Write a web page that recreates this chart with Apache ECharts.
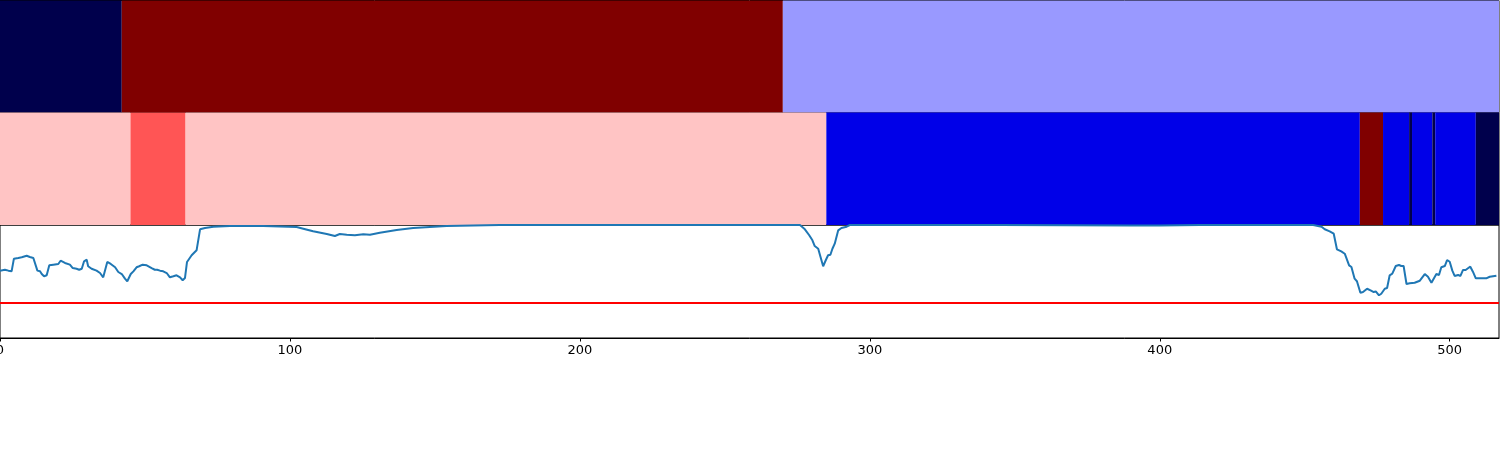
<!DOCTYPE html>
<html>
<head>
<meta charset="utf-8">
<script src="https://cdn.jsdelivr.net/npm/echarts@6/dist/echarts.min.js"></script>
<style>
html,body{margin:0;padding:0;background:#fff;}
#chart{width:1500px;height:450px;}
</style>
</head>
<body>
<div id="chart"></div>
<script>
// ---- data ----
const xMax = 517;
const tickLabels = [0, 100, 200, 300, 400, 500];

// top strip segments
const topStart = [0, 42, 270];
const topEnd   = [42, 270, 517];
const topState = ['navy', 'darkred', 'lavender'];

// middle strip segments
const midStart = [0, 45, 64, 285, 469, 477, 486, 487, 494, 495, 509];
const midEnd   = [45, 64, 285, 469, 477, 486, 487, 494, 495, 509, 517];
const midState = ['pink', 'red', 'pink', 'blue', 'darkred', 'blue', 'navy', 'blue', 'navy', 'blue', 'navy'];

// line series (x, value)
const lineX = [0,1.7,2.9,4.0,4.8,6.3,7.5,9.2,10.3,11.5,12.1,12.9,13.8,14.4,15.2,16.1,17.0,18.4,20.1,20.9,22.4,24.1,25.1,26.4,27.3,28.2,29.0,29.9,30.4,31.6,33.3,34.5,35.6,37.0,38.2,39.7,40.8,42.0,43.1,43.9,45.1,46.0,47.1,48.0,49.2,50.6,52.3,53.4,54.2,55.2,56.3,57.5,58.6,59.8,60.9,62.1,63.0,63.8,64.5,66.1,67.8,69.0,70.7,73.6,79.3,90.8,102.3,104.6,108.0,112.7,115.5,117.2,119.6,122.4,125.3,127.6,131.0,136.8,142.5,154.0,172.4,206.9,241.4,269.0,275.9,277.6,279.1,280.2,281.0,282.2,283.0,283.9,284.8,285.6,286.4,287.1,287.9,289.1,290.2,292.0,293.1,344.8,389.7,400.0,413.8,444.8,452.9,455.8,456.9,458.6,460.0,461.1,462.6,463.8,465.3,466.1,467.2,468.0,469.2,470.1,471.5,472.7,473.8,474.5,475.6,476.4,477.6,478.4,479.3,480.2,481.4,482.5,483.3,484.1,485.1,486.2,487.9,488.5,489.7,490.2,491.4,492.5,493.7,494.2,495.4,496.3,497.1,498.3,499.1,500.0,500.9,501.7,502.9,503.7,504.6,505.5,506.3,507.1,508.0,509.0,510.3,512.6,513.8,516.1];
const lineY = [0.596,0.604,0.596,0.590,0.702,0.708,0.714,0.728,0.717,0.708,0.702,0.596,0.590,0.566,0.546,0.555,0.643,0.649,0.655,0.684,0.664,0.649,0.619,0.613,0.604,0.613,0.679,0.693,0.635,0.613,0.596,0.575,0.537,0.673,0.655,0.626,0.584,0.566,0.525,0.502,0.566,0.590,0.626,0.635,0.649,0.643,0.619,0.604,0.604,0.596,0.590,0.575,0.537,0.546,0.555,0.537,0.511,0.531,0.673,0.732,0.776,0.962,0.973,0.985,0.991,0.991,0.982,0.967,0.944,0.920,0.903,0.920,0.914,0.909,0.918,0.914,0.932,0.956,0.973,0.991,1.0,1.0,1.0,1.0,1.0,0.962,0.909,0.865,0.814,0.790,0.717,0.635,0.688,0.732,0.737,0.790,0.835,0.953,0.973,0.985,1.0,1.0,0.996,0.996,1.0,1.0,1.0,0.985,0.962,0.944,0.923,0.785,0.767,0.746,0.643,0.628,0.525,0.502,0.401,0.407,0.436,0.422,0.407,0.413,0.378,0.392,0.436,0.442,0.555,0.569,0.637,0.646,0.637,0.637,0.478,0.484,0.489,0.498,0.507,0.513,0.566,0.542,0.489,0.489,0.566,0.558,0.626,0.637,0.690,0.675,0.596,0.549,0.558,0.549,0.602,0.602,0.617,0.631,0.587,0.528,0.528,0.528,0.542,0.551];
const threshold = 0.31;

// ---- styles ----
const palette = {
  navy: '#00004c', blue: '#0000e8', lavender: '#9999ff',
  pink: '#ffc4c4', red: '#ff5555', darkred: '#800000'
};

function segData(s, e, st) { return s.map((v, i) => [v, e[i], st[i]]); }

function renderSeg(params, api) {
  const p0 = api.coord([api.value(0), 0]);
  const p1 = api.coord([api.value(1), 1]);
  return {
    type: 'rect',
    shape: { x: p0[0], y: p1[1], width: p1[0] - p0[0], height: p0[1] - p1[1] },
    style: { fill: api.visual('color') }
  };
}

const chart = echarts.init(document.getElementById('chart'), null, { renderer: 'canvas' });

const gridBase = { left: 0, right: 1, show: true, borderColor: '#000', borderWidth: 1, backgroundColor: 'transparent', containLabel: false, outerBoundsMode: 'none' };
const grids = [
  Object.assign({}, gridBase, { top: 0.5, height: 112 }),
  Object.assign({}, gridBase, { top: 112.5, height: 112.5 }),
  Object.assign({}, gridBase, { top: 225, height: 113 })
];

function hiddenX(i) {
  return { type: 'value', gridIndex: i, min: 0, max: xMax, show: false, splitLine: { show: false } };
}
function hiddenY(i) {
  return { type: 'value', gridIndex: i, min: 0, max: 1, show: false, splitLine: { show: false } };
}

const topData = segData(topStart, topEnd, topState).map(d => ({ value: [d[0], d[1]], itemStyle: { color: palette[d[2]] } }));
const midData = segData(midStart, midEnd, midState).map(d => ({ value: [d[0], d[1]], itemStyle: { color: palette[d[2]] } }));

const option = {
  animation: false,
  backgroundColor: '#fff',
  grid: grids,
  xAxis: [
    hiddenX(0), hiddenX(1),
    {
      type: 'value', gridIndex: 2, min: 0, max: xMax,
      axisLine: { show: true, lineStyle: { color: '#000', width: 1 } },
      axisTick: { show: true, length: 3.5, lineStyle: { color: '#000' }, customValues: tickLabels },
      axisLabel: { show: true, color: '#000', fontSize: 13, fontFamily: 'DejaVu Sans', margin: 6, customValues: tickLabels },
      splitLine: { show: false }
    }
  ],
  yAxis: [hiddenY(0), hiddenY(1), hiddenY(2)],
  series: [
    { type: 'custom', xAxisIndex: 0, yAxisIndex: 0, renderItem: renderSeg, data: topData, encode: { x: [0, 1] } },
    { type: 'custom', xAxisIndex: 1, yAxisIndex: 1, renderItem: renderSeg, data: midData, encode: { x: [0, 1] } },
    {
      type: 'line', xAxisIndex: 2, yAxisIndex: 2,
      data: lineX.map((x, i) => [x, lineY[i]]),
      showSymbol: false, symbol: 'none', clip: true,
      lineStyle: { color: '#1f77b4', width: 2 },
      markLine: {
        silent: true, symbol: ['none', 'none'], label: { show: false },
        lineStyle: { color: '#ff0000', width: 2, type: 'solid' },
        data: [{ yAxis: threshold }]
      }
    }
  ]
};
chart.setOption(option);
</script>
</body>
</html>
